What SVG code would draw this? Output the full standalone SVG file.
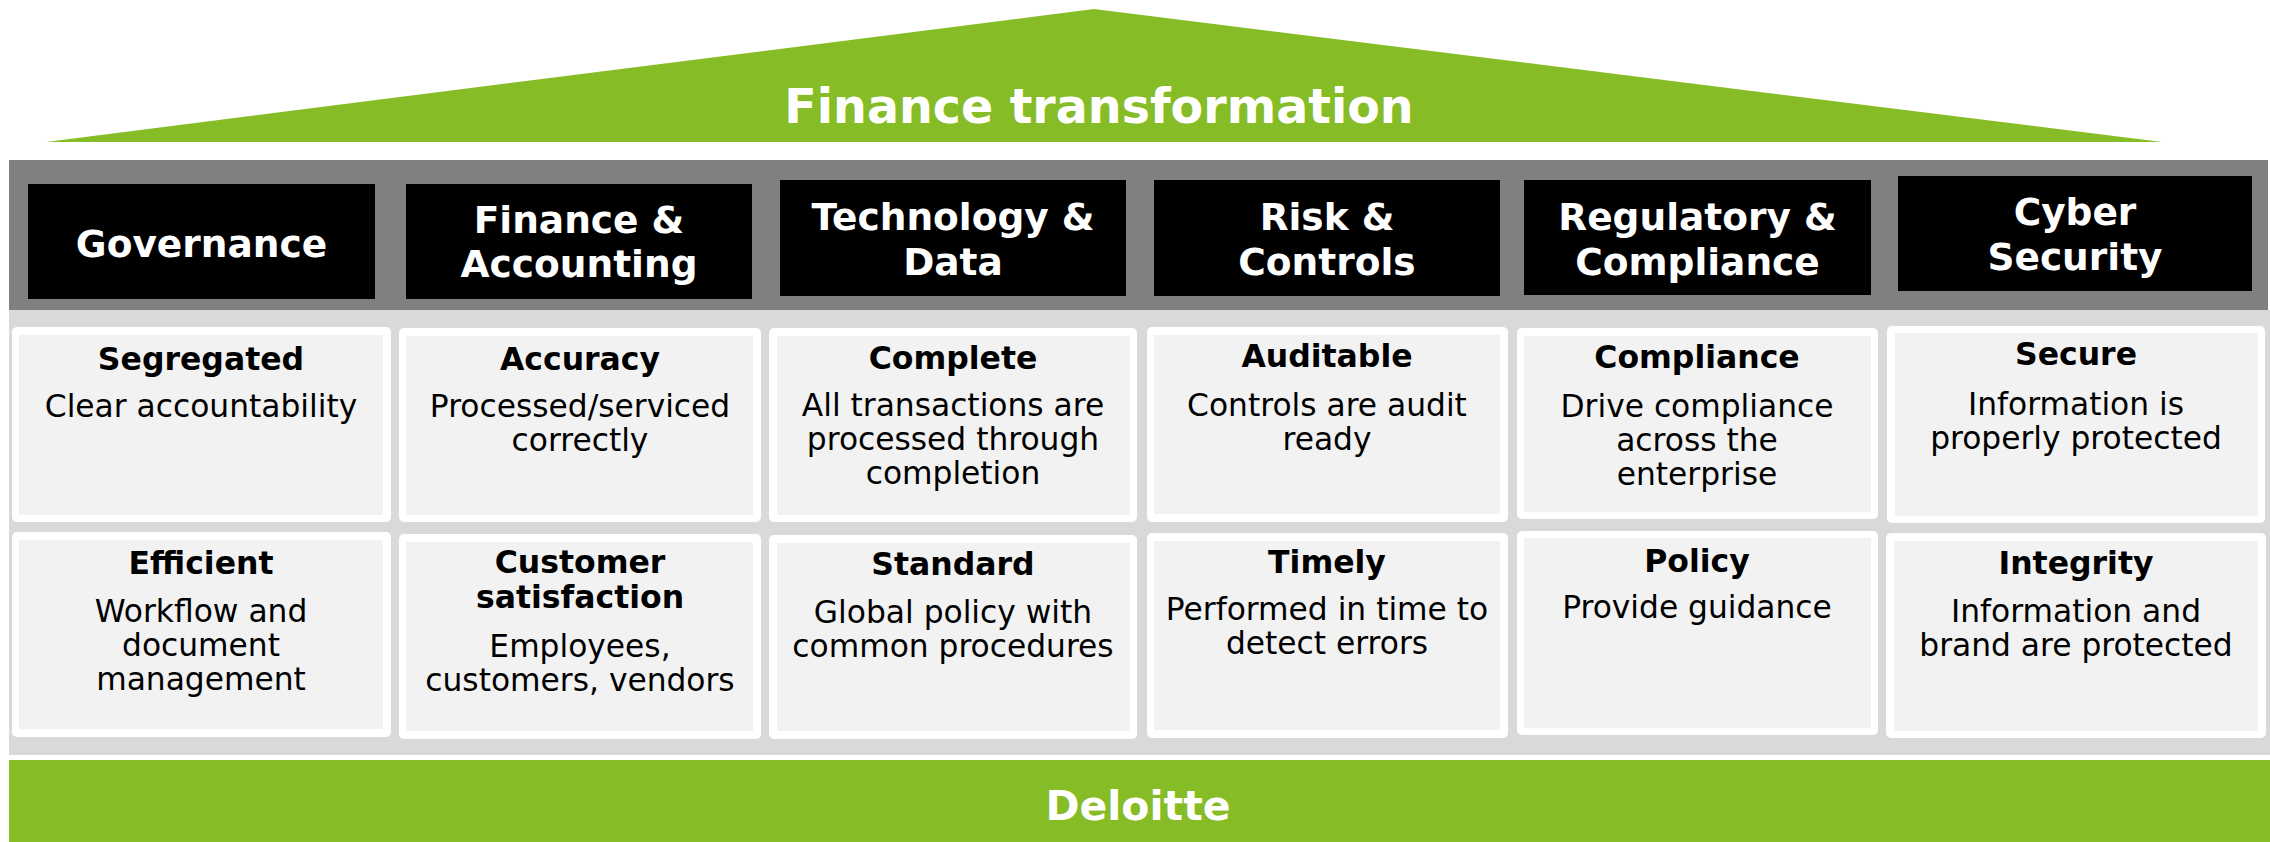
<svg xmlns="http://www.w3.org/2000/svg" width="2270" height="842" viewBox="0 0 2270 842">
<style>
text{font-family:"DejaVu Sans",Verdana,sans-serif;text-anchor:middle}
.hd{font-size:37.5px;font-weight:bold;fill:#fff}
.hbox{fill:#000}
.co{fill:#fff}
.ci{fill:#f2f2f2}
.t{font-size:31.5px;font-weight:bold;fill:#000}
.b{font-size:31.3px;fill:#000}
.big{font-weight:bold;fill:#fff}
</style>
<rect width="2270" height="842" fill="#fff"/>
<g id="roof">
<polygon points="46,142 1094,9 2162,142" fill="#86bc25"/>
<text class="big" x="1099" y="123" font-size="47.5">Finance transformation</text>
</g>
<g id="bands">
<rect x="9" y="160" width="2259" height="150" fill="#808080"/>
<rect x="9" y="310" width="2261" height="445" fill="#d9d9d9"/>
</g>
<g id="foundation">
<rect x="9" y="760" width="2261" height="82" fill="#86bc25"/>
<text class="big" x="1138" y="820" font-size="41">Deloitte</text>
</g>
<g id="connectors"></g>
<g id="h-governance"><rect class="hbox" x="28" y="184" width="347" height="115"/><text class="hd" x="201.5" y="257">Governance</text></g>
<g id="h-finance"><rect class="hbox" x="406" y="184" width="346" height="115"/><text class="hd" x="579" y="233">Finance &amp;</text><text class="hd" x="579" y="277">Accounting</text></g>
<g id="h-technology"><rect class="hbox" x="780" y="180" width="346" height="116"/><text class="hd" x="953" y="230">Technology &amp;</text><text class="hd" x="953" y="275">Data</text></g>
<g id="h-risk"><rect class="hbox" x="1154" y="180" width="346" height="116"/><text class="hd" x="1327" y="230">Risk &amp;</text><text class="hd" x="1327" y="275">Controls</text></g>
<g id="h-regulatory"><rect class="hbox" x="1524" y="180" width="347" height="115"/><text class="hd" x="1697.5" y="230">Regulatory &amp;</text><text class="hd" x="1697.5" y="275">Compliance</text></g>
<g id="h-cyber"><rect class="hbox" x="1898" y="176" width="354" height="115"/><text class="hd" x="2075" y="225">Cyber</text><text class="hd" x="2075" y="270">Security</text></g>

<g id="c-segregated"><rect class="co" x="12" y="327" width="379" height="195" rx="5"/><rect class="ci" x="19" y="335" width="364" height="180"/><text class="t" x="201" y="370">Segregated</text><text class="b" x="201" y="417">Clear accountability</text></g>
<g id="c-accuracy"><rect class="co" x="399" y="328" width="362" height="194" rx="5"/><rect class="ci" x="406" y="336" width="347" height="179"/><text class="t" x="580" y="370">Accuracy</text><text class="b" x="580" y="417">Processed/serviced</text><text class="b" x="580" y="451">correctly</text></g>
<g id="c-complete"><rect class="co" x="769" y="328" width="368" height="194" rx="5"/><rect class="ci" x="777" y="336" width="353" height="179"/><text class="t" x="953" y="369">Complete</text><text class="b" x="953" y="416">All transactions are</text><text class="b" x="953" y="450">processed through</text><text class="b" x="953" y="484">completion</text></g>
<g id="c-auditable"><rect class="co" x="1147" y="327" width="361" height="195" rx="5"/><rect class="ci" x="1154" y="335" width="346" height="179"/><text class="t" x="1327" y="367">Auditable</text><text class="b" x="1327" y="416">Controls are audit</text><text class="b" x="1327" y="450">ready</text></g>
<g id="c-compliance"><rect class="co" x="1517" y="328" width="361" height="191" rx="5"/><rect class="ci" x="1524" y="336" width="347" height="176"/><text class="t" x="1697" y="368">Compliance</text><text class="b" x="1697" y="417">Drive compliance</text><text class="b" x="1697" y="451">across the</text><text class="b" x="1697" y="485">enterprise</text></g>
<g id="c-secure"><rect class="co" x="1887" y="326" width="378" height="197" rx="5"/><rect class="ci" x="1895" y="333" width="363" height="183"/><text class="t" x="2076" y="365">Secure</text><text class="b" x="2076" y="415">Information is</text><text class="b" x="2076" y="449">properly protected</text></g>

<g id="c-efficient"><rect class="co" x="12" y="532" width="379" height="205" rx="5"/><rect class="ci" x="19" y="540" width="364" height="189"/><text class="t" x="201" y="574">Efficient</text><text class="b" x="201" y="622">Workflow and</text><text class="b" x="201" y="656">document</text><text class="b" x="201" y="690">management</text></g>
<g id="c-customer"><rect class="co" x="399" y="534" width="362" height="205" rx="5"/><rect class="ci" x="406" y="542" width="347" height="189"/><text class="t" x="580" y="573">Customer</text><text class="t" x="580" y="608">satisfaction</text><text class="b" x="580" y="657">Employees,</text><text class="b" x="580" y="691">customers, vendors</text></g>
<g id="c-standard"><rect class="co" x="769" y="535" width="368" height="204" rx="5"/><rect class="ci" x="777" y="543" width="353" height="188"/><text class="t" x="953" y="575">Standard</text><text class="b" x="953" y="623">Global policy with</text><text class="b" x="953" y="657">common procedures</text></g>
<g id="c-timely"><rect class="co" x="1147" y="533" width="361" height="205" rx="5"/><rect class="ci" x="1154" y="541" width="346" height="189"/><text class="t" x="1327" y="573">Timely</text><text class="b" x="1327" y="620">Performed in time to</text><text class="b" x="1327" y="654">detect errors</text></g>
<g id="c-policy"><rect class="co" x="1517" y="531" width="361" height="204" rx="5"/><rect class="ci" x="1524" y="538" width="347" height="190"/><text class="t" x="1697" y="572">Policy</text><text class="b" x="1697" y="618">Provide guidance</text></g>
<g id="c-integrity"><rect class="co" x="1886" y="533" width="380" height="205" rx="5"/><rect class="ci" x="1894" y="541" width="364" height="190"/><text class="t" x="2076" y="574">Integrity</text><text class="b" x="2076" y="622">Information and</text><text class="b" x="2076" y="656">brand are protected</text></g>
</svg>
